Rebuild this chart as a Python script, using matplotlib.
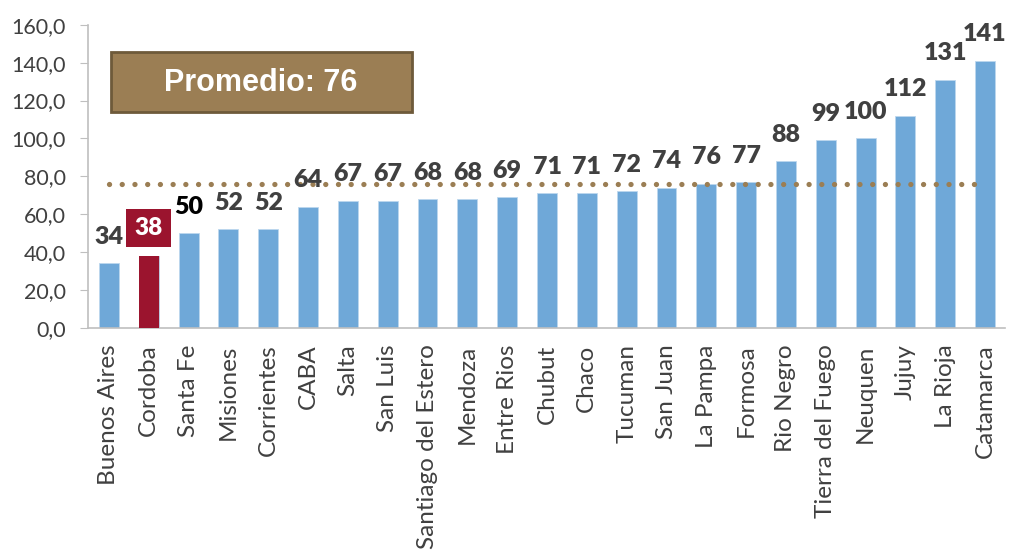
import matplotlib.pyplot as plt
from matplotlib.patches import Rectangle

# datos
provincias = ["Buenos Aires", "Cordoba", "Santa Fe", "Misiones", "Corrientes", "CABA",
              "Salta", "San Luis", "Santiago del Estero", "Mendoza", "Entre Rios", "Chubut",
              "Chaco", "Tucuman", "San Juan", "La Pampa", "Formosa", "Rio Negro",
              "Tierra del Fuego", "Neuquen", "Jujuy", "La Rioja", "Catamarca"]
valores = [34, 38, 50, 52, 52, 64, 67, 67, 68, 68, 69, 71, 71, 72, 74, 76, 77, 88,
           99, 100, 112, 131, 141]
promedio = 76
destacada = "Cordoba"

azul = "#6FA8D8"
rojo = "#9B142E"
marron = "#9B7E54"
gris = "#404040"

fig = plt.figure(figsize=(10.1, 5.5), dpi=100)
ax = fig.add_axes([0.087, 0.404, 0.908, 0.551])

x = list(range(len(provincias)))
colores = [rojo if p == destacada else azul for p in provincias]
ax.bar(x, valores, width=0.5, color=colores, edgecolor="#BDD7EE", linewidth=0.6, zorder=2)
ax.bar([provincias.index(destacada)], [valores[provincias.index(destacada)]], width=0.5,
       color=rojo, zorder=3)

# linea de promedio (por encima de las barras)
ax.plot([0, len(provincias) - 1.2], [promedio, promedio], color=marron, lw=3.8,
        ls=(0, (0.01, 2.4)), dash_capstyle="round", zorder=4)

# etiquetas
for i, (p, v) in enumerate(zip(provincias, valores)):
    if p == destacada:
        ax.annotate(str(v), (i, v), xytext=(0, 20), textcoords="offset points",
                    ha="center", va="center", fontsize=17.5, fontweight="heavy",
                    family="Lato", color="white", zorder=5,
                    bbox=dict(boxstyle="square,pad=0.34", fc=rojo, ec="none"))
    else:
        col = "black" if v == 50 else gris
        ax.annotate(str(v), (i, v), xytext=(0, 14), textcoords="offset points",
                    ha="center", va="baseline", fontsize=18, fontweight="heavy",
                    family="Lato", color=col, zorder=5)

ax.set_ylim(0, 160)
ax.set_yticks(range(0, 161, 20))
ax.set_yticklabels([f"{t},0" for t in range(0, 161, 20)], family="Lato", fontsize=15.5, color=gris)
ax.set_xlim(-0.53, len(provincias) - 0.5)
ax.set_xticks(x)
ax.set_xticklabels(provincias, rotation=90, family="Lato", fontsize=17.5, color=gris)
ax.tick_params(axis="x", length=0, pad=12)
ax.tick_params(axis="y", length=6, color="#BFBFBF", pad=10)

for s in ["top", "right"]:
    ax.spines[s].set_visible(False)
for s in ["left", "bottom"]:
    ax.spines[s].set_color("#BFBFBF")
    ax.spines[s].set_linewidth(1.2)

# cuadro de promedio
fig.patches.append(Rectangle((111 / 1010, 1 - 112 / 550), 301 / 1010, 60 / 550,
                             transform=fig.transFigure, fc=marron, ec="#6E5A3A", lw=2))
fig.text(261 / 1010, 1 - 83 / 550, "Promedio: 76", ha="center", va="center",
         fontsize=22, fontweight="bold", family="Liberation Sans", color="white")

fig.savefig("out.png", dpi=100)
